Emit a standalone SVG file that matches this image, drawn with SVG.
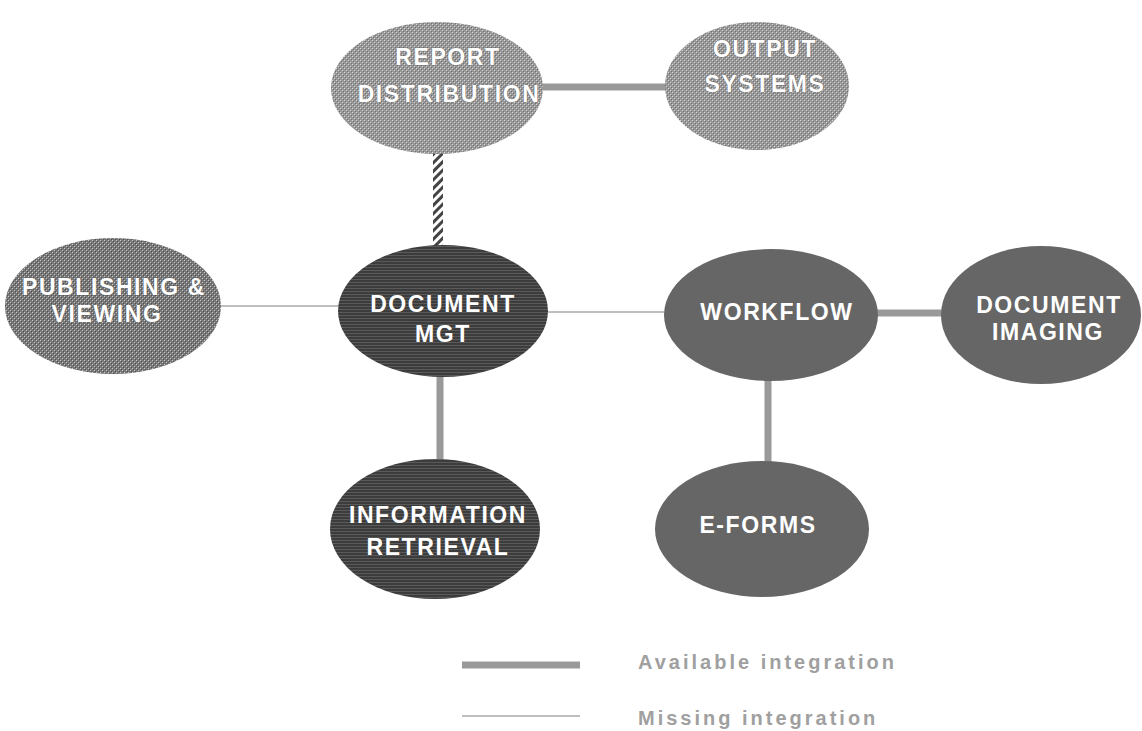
<svg xmlns="http://www.w3.org/2000/svg" width="1142" height="731" viewBox="0 0 1142 731">
<style>
.lbl{font-family:"Liberation Sans",Arial,sans-serif;font-size:23px;font-weight:bold;fill:#fff;text-anchor:middle;letter-spacing:1.6px}
.lblo{stroke:#555;stroke-width:0.6px;paint-order:stroke}
.thick{stroke:#999;stroke-width:7;fill:none}
.thin{stroke:#aaa;stroke-width:1.5;fill:none}
.leg{font-family:"Liberation Sans",Arial,sans-serif;font-size:20px;font-weight:bold;fill:#a0a0a0;letter-spacing:3px}
</style>
<defs>
<pattern id="pLight" width="4" height="4" patternUnits="userSpaceOnUse">
<rect width="4" height="4" fill="#989898"/>
<rect x="0" y="0" width="1" height="1" fill="#d8d8d8"/>
<rect x="2" y="2" width="1" height="1" fill="#d8d8d8"/>
<rect x="1" y="1" width="1" height="1" fill="#707070"/>
<rect x="3" y="3" width="1" height="1" fill="#707070"/>
</pattern>
<pattern id="pMid" width="4" height="4" patternUnits="userSpaceOnUse">
<rect width="4" height="4" fill="#787878"/>
<rect x="0" y="0" width="1" height="1" fill="#c8c8c8"/>
<rect x="2" y="2" width="1" height="1" fill="#c8c8c8"/>
<rect x="1" y="1" width="1" height="1" fill="#505050"/>
<rect x="3" y="3" width="1" height="1" fill="#505050"/>
</pattern>
<pattern id="pDark" width="4" height="3" patternUnits="userSpaceOnUse">
<rect width="4" height="3" fill="#3c3c3c"/>
<rect x="0" y="0" width="4" height="1" fill="#5a5a5a"/>
</pattern>
<pattern id="pHatch" width="6" height="6" patternUnits="userSpaceOnUse" patternTransform="rotate(-45)">
<rect width="6" height="6" fill="#fff"/>
<rect width="6" height="3" fill="#444"/>
</pattern>
</defs>
<rect width="1142" height="731" fill="#fff"/>
<g id="connectors">
<line class="thick" x1="540" y1="87" x2="668" y2="87"/>
<rect x="433" y="150" width="10" height="98" fill="url(#pHatch)"/>
<line class="thin" x1="220" y1="306" x2="340" y2="306"/>
<line class="thin" x1="546" y1="312" x2="667" y2="312"/>
<line class="thick" x1="876" y1="313" x2="942" y2="313"/>
<line class="thick" x1="440" y1="376" x2="440" y2="462"/>
<line class="thick" x1="768" y1="379" x2="768" y2="464"/>
</g>
<g id="report-distribution">
<ellipse cx="437" cy="88" rx="106" ry="66" fill="url(#pLight)"/>
<text class="lbl lblo" x="448" y="65">REPORT</text>
<text class="lbl lblo" x="449" y="102">DISTRIBUTION</text>
</g>
<g id="output-systems">
<ellipse cx="757" cy="86" rx="92" ry="64" fill="url(#pLight)"/>
<text class="lbl lblo" x="765" y="57">OUTPUT</text>
<text class="lbl lblo" x="765" y="92">SYSTEMS</text>
</g>
<g id="publishing-viewing">
<ellipse cx="113" cy="306" rx="108" ry="68" fill="url(#pMid)"/>
<text class="lbl lblo" x="114" y="295">PUBLISHING &amp;</text>
<text class="lbl lblo" x="107" y="322">VIEWING</text>
</g>
<g id="document-mgt">
<ellipse cx="443" cy="311" rx="105" ry="66" fill="url(#pDark)"/>
<text class="lbl" x="443" y="312">DOCUMENT</text>
<text class="lbl" x="443" y="342">MGT</text>
</g>
<g id="workflow">
<ellipse cx="771" cy="315" rx="107" ry="66" fill="#666"/>
<text class="lbl" x="777" y="320">WORKFLOW</text>
</g>
<g id="document-imaging">
<ellipse cx="1041" cy="315" rx="100" ry="69" fill="#666"/>
<text class="lbl" x="1049" y="313">DOCUMENT</text>
<text class="lbl" x="1048" y="340">IMAGING</text>
</g>
<g id="information-retrieval">
<ellipse cx="435" cy="529" rx="105" ry="70" fill="url(#pDark)"/>
<text class="lbl" x="438" y="523">INFORMATION</text>
<text class="lbl" x="438" y="555">RETRIEVAL</text>
</g>
<g id="e-forms">
<ellipse cx="762" cy="529" rx="107" ry="68" fill="#666"/>
<text class="lbl" x="758" y="533">E-FORMS</text>
</g>
<g id="legend">
<line class="thick" x1="462" y1="665" x2="580" y2="665"/>
<text class="leg" x="638" y="669">Available integration</text>
<line class="thin" x1="462" y1="716" x2="580" y2="716"/>
<text class="leg" x="638" y="725">Missing integration</text>
</g>
</svg>
